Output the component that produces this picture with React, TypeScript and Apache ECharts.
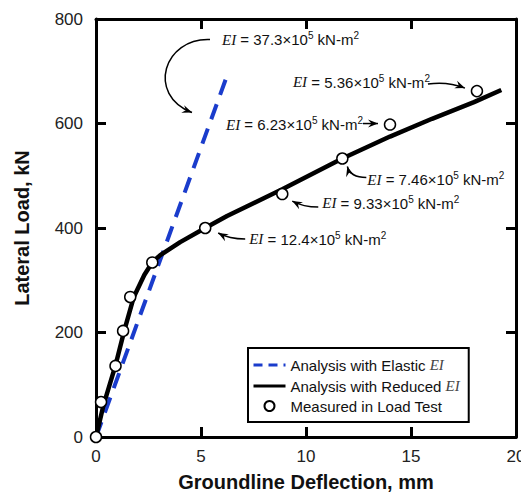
import { useEffect, useRef } from 'react';
import * as echarts from 'echarts';

// Analysis with elastic EI (straight line)
const elasticDeflection = [0, 6.19];
const elasticLoad = [0, 686];

// Analysis with reduced EI
const reducedDeflection = [0, 0.35, 0.92, 1.35, 1.8, 2.3, 2.69, 3.06, 4.01, 5.2, 6.24, 8.87, 11.73, 14.0, 16.0, 18.0, 19.3];
const reducedLoad = [0, 60, 136, 204, 268, 310, 335, 348, 373, 400, 423, 474, 533, 575, 609, 641, 664];

// Measured in load test
const measuredDeflection = [0, 0.24, 0.93, 1.29, 1.63, 2.68, 5.2, 8.87, 11.73, 14.0, 18.14];
const measuredLoad = [0, 67, 136, 203, 268, 334, 400, 465, 533, 598, 662];

// EI annotations (value ×10^5 kN-m²)
const eiValues = ['37.3', '12.4', '9.33', '7.46', '6.23', '5.36'];
// index into measured points that each reduced-EI annotation points to (-1 = elastic line top)
const eiTargets = [-1, 6, 7, 8, 9, 10];

const xTicks = { min: 0, max: 20, interval: 5 };
const yTicks = { min: 0, max: 800, interval: 200 };

const SANS = '"Liberation Sans", Arial, Helvetica, sans-serif';
const SERIF = '"Liberation Serif", "Times New Roman", serif';

const richStyles = {
  ei: { fontFamily: SERIF, fontStyle: 'italic', fontSize: 15, color: '#444', lineHeight: 18 },
  sup: { fontFamily: SANS, fontSize: 10, lineHeight: 10, verticalAlign: 'top', color: '#111' },
};

function eiText(v: string) {
  return `{ei|EI} = ${v}×10{sup|5} kN-m{sup|2}`;
}

function arrowHead(tx: number, ty: number, fx: number, fy: number, L = 10, W = 4) {
  let dx = tx - fx;
  let dy = ty - fy;
  const len = Math.sqrt(dx * dx + dy * dy) || 1;
  dx /= len;
  dy /= len;
  const nx = -dy;
  const ny = dx;
  return [
    [tx, ty],
    [tx - L * dx + W * nx, ty - L * dy + W * ny],
    [tx - 0.65 * L * dx, ty - 0.65 * L * dy],
    [tx - L * dx - W * nx, ty - L * dy - W * ny],
  ];
}

// layout offsets (pixels) relative to target point: text left/center, arrow start, control points, arrow tip
const annLayout: any[] = [
  { tx: -4, ty: -39, sx: -16, sy: -39, c1x: -62, c1y: -41, c2x: -80, c2y: 16, ex: -34, ey: 34 },
  { tx: 44, ty: 11, sx: 40, sy: 11, c1x: 24, c1y: 11, ex: 13, ey: 5 },
  { tx: 40, ty: 9, sx: 36, sy: 13, c1x: 21, c1y: 13, ex: 10, ey: 7 },
  { tx: 25, ty: 21, sx: 24, sy: 19, c1x: 8, c1y: 19, ex: 5, ey: 8 },
  { tx: -164, ty: 0, sx: -27, sy: -1, c1x: -20, c1y: -1, ex: -12, ey: -1 },
  { tx: -184, ty: -9, sx: -49, sy: -7, c1x: -30, c1y: -10, ex: -12, ey: -3 },
];

export default function App() {
  const ref = useRef<HTMLDivElement>(null);

  useEffect(() => {
    if (!ref.current) return;
    const chart = echarts.init(ref.current, undefined, { renderer: 'svg' });

    const axisLine = { show: true, onZero: false, lineStyle: { color: '#000', width: 3 } };
    const axisTick = { show: true, inside: true, length: 10, lineStyle: { color: '#000', width: 3 } };

    chart.setOption({
      animation: false,
      backgroundColor: '#fff',
      grid: { left: 96, right: 5, top: 19, bottom: 57, containLabel: false, outerBoundsMode: 'none' },
      xAxis: [
        {
          type: 'value', ...xTicks, position: 'bottom',
          axisLine, axisTick,
          splitLine: { show: false },
          axisLabel: { fontSize: 17, color: '#222', margin: 11, fontFamily: SANS },
          name: 'Groundline Deflection, mm', nameLocation: 'middle', nameGap: 35,
          nameTextStyle: { fontSize: 20, fontWeight: 'bold', color: '#111', fontFamily: SANS },
        },
        {
          type: 'value', ...xTicks, position: 'top',
          axisLine, axisTick, splitLine: { show: false }, axisLabel: { show: false },
        },
      ],
      yAxis: [
        {
          type: 'value', ...yTicks, position: 'left',
          axisLine, axisTick,
          splitLine: { show: false },
          axisLabel: { fontSize: 17, color: '#222', margin: 13, fontFamily: SANS },
          name: 'Lateral Load, kN', nameLocation: 'middle', nameGap: 64,
          nameTextStyle: { fontSize: 20, fontWeight: 'bold', color: '#111', fontFamily: SANS },
        },
        {
          type: 'value', ...yTicks, position: 'right',
          axisLine, axisTick, splitLine: { show: false }, axisLabel: { show: false },
        },
      ],
      legend: {
        orient: 'vertical', left: 248, top: 348,
        padding: [8, 9, 8, 4], itemWidth: 32, itemHeight: 10, itemGap: 3,
        borderColor: '#000', borderWidth: 2, backgroundColor: '#fff',
        textStyle: { fontSize: 15, fontFamily: SANS, color: '#111', lineHeight: 16, rich: richStyles },
        formatter: (name: string) =>
          name === 'Measured in Load Test' ? name : name.replace(/ EI$/, ' {ei|EI}'),
        data: [
          { name: 'Analysis with Elastic EI', lineStyle: { width: 3, type: [9, 6] }, itemStyle: { opacity: 0 } },
          { name: 'Analysis with Reduced EI', lineStyle: { width: 3 }, itemStyle: { opacity: 0 } },
          { name: 'Measured in Load Test' },
        ],
      },
      series: [
        {
          name: 'Analysis with Elastic EI', type: 'line', symbol: 'none',
          data: elasticDeflection.map((x, i) => [x, elasticLoad[i]]),
          lineStyle: { color: '#1a3ccc', width: 4, type: [16, 10] },
          itemStyle: { color: '#1a3ccc' }, z: 2,
        },
        {
          name: 'Analysis with Reduced EI', type: 'line', symbol: 'none',
          data: reducedDeflection.map((x, i) => [x, reducedLoad[i]]),
          lineStyle: { color: '#000', width: 4.5 },
          itemStyle: { color: '#000' }, z: 3,
        },
        {
          name: 'Measured in Load Test', type: 'scatter', symbol: 'circle', symbolSize: 11,
          data: measuredDeflection.map((x, i) => [x, measuredLoad[i]]),
          itemStyle: { color: '#fff', borderColor: '#000', borderWidth: 1.5, opacity: 1 },
          z: 4,
        },
      ],
    });

    // Annotations positioned from data points through the chart's own scales
    const graphics: any[] = [];
    eiValues.forEach((v, k) => {
      const t = eiTargets[k];
      const pt = t < 0
        ? chart.convertToPixel({ seriesIndex: 0 }, [elasticDeflection[1], elasticLoad[1]])
        : chart.convertToPixel({ seriesIndex: 2 }, [measuredDeflection[t], measuredLoad[t]]);
      const [px, py] = pt as number[];
      const L = annLayout[k];
      graphics.push({
        type: 'text', x: px + L.tx, y: py + L.ty, z: 10,
        style: {
          text: eiText(v), fontSize: 15, fontFamily: SANS, fill: '#111', lineHeight: 18,
          rich: richStyles, align: 'left', verticalAlign: 'middle',
        },
      });
      const shape: any = {
        x1: px + L.sx, y1: py + L.sy, x2: px + L.ex, y2: py + L.ey,
        cpx1: px + L.c1x, cpy1: py + L.c1y,
      };
      if (L.c2x !== undefined) {
        shape.cpx2 = px + L.c2x;
        shape.cpy2 = py + L.c2y;
      }
      graphics.push({
        type: 'bezierCurve', shape, z: 10,
        style: { stroke: '#000', lineWidth: 1.5, fill: null },
      });
      const fromX = L.c2x !== undefined ? px + L.c2x : px + L.c1x;
      const fromY = L.c2y !== undefined ? py + L.c2y : py + L.c1y;
      graphics.push({
        type: 'polygon', z: 10,
        shape: { points: arrowHead(px + L.ex, py + L.ey, fromX, fromY, 10, 4) },
        style: { fill: '#000' },
      });
    });
    chart.setOption({ graphic: graphics });

    return () => chart.dispose();
  }, []);

  return (
    <div
      ref={ref}
      style={{ position: 'fixed', left: 0, top: 0, width: 521, height: 494, background: '#fff' }}
    />
  );
}
